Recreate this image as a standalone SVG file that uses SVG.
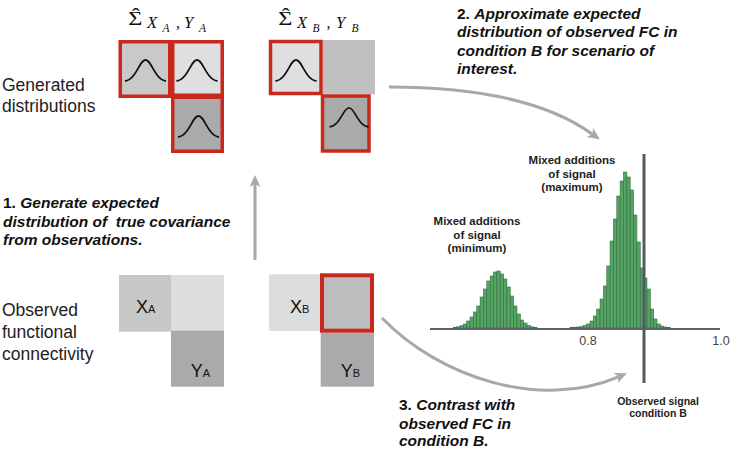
<svg xmlns="http://www.w3.org/2000/svg" width="733" height="449" viewBox="0 0 733 449">
<defs>
<style>
.lab{font-family:"Liberation Sans",Arial,sans-serif;font-size:17.5px;fill:#222}
.step{font-family:"Liberation Sans",Arial,sans-serif;font-size:15.5px;font-weight:bold;fill:#111}
.it{font-style:italic}
.ann{font-family:"Liberation Sans",Arial,sans-serif;font-weight:bold;font-size:11.5px;fill:#222;text-anchor:middle}
.obs{font-family:"Liberation Sans",Arial,sans-serif;font-weight:bold;font-size:10.5px;fill:#222;text-anchor:middle}
.tick{font-family:"Liberation Sans",Arial,sans-serif;font-size:12.5px;fill:#444;text-anchor:middle}
.math{font-family:"Liberation Serif","DejaVu Serif",serif;fill:#111}
.cellr{stroke:#c8291c;stroke-width:3.5}
.bell{fill:none;stroke:#111;stroke-width:1.8}
.cl{font-family:"Liberation Sans",Arial,sans-serif;font-size:18px;fill:#111}
.bar{fill:#55a463;stroke:#2f6e3f;stroke-width:0.6}
.conn{fill:none;stroke:#a8a8a8;stroke-width:3;marker-end:url(#ah)}
</style>
<marker id="ah" markerUnits="userSpaceOnUse" markerWidth="12" markerHeight="11" refX="3" refY="5.5" orient="auto" viewBox="0 0 12 11">
<path d="M0,0 L12,5.5 L0,11 L3,5.5 z" fill="#a8a8a8"/>
</marker>
<path id="bellc" d="M-20.5,21 C-14,20.5 -10,13 -6,6 C-3.5,1.5 -1.5,0 0,0 C1.5,0 3.5,1.5 6,6 C10,13 14,20.5 20.5,21"/>
</defs>

<g id="label-generated">
<text class="lab" x="2" y="90.5">Generated</text>
<text class="lab" x="2" y="111.5">distributions</text>
</g>
<g id="label-observed">
<text class="lab" x="2" y="315.5">Observed</text>
<text class="lab" x="2" y="337.5">functional</text>
<text class="lab" x="2" y="359.5">connectivity</text>
</g>

<g id="sigma-A" class="math">
<g transform="translate(128.3,0) scale(1.35,1)">
<text x="0" y="25" font-size="18">Σ</text>
<text x="5.5" y="21" font-size="18" text-anchor="middle">ˆ</text>
</g>
<text x="147" y="27.5" font-size="16.5" font-style="italic">X</text>
<text x="162.5" y="31.5" font-size="11.5" font-style="italic">A</text>
<text x="176" y="27.5" font-size="16">,</text>
<text x="184" y="27.5" font-size="16.5" font-style="italic">Y</text>
<text x="199" y="31.5" font-size="11.5" font-style="italic">A</text>
</g>
<g id="sigma-B" class="math">
<g transform="translate(278.3,0) scale(1.35,1)">
<text x="0" y="25" font-size="18">Σ</text>
<text x="5.5" y="21" font-size="18" text-anchor="middle">ˆ</text>
</g>
<text x="297" y="27.5" font-size="16.5" font-style="italic">X</text>
<text x="312.5" y="31.5" font-size="11.5" font-style="italic">B</text>
<text x="326.5" y="27.5" font-size="16">,</text>
<text x="336" y="27.5" font-size="16.5" font-style="italic">Y</text>
<text x="351.5" y="31.5" font-size="11.5" font-style="italic">B</text>
</g>

<g id="gen-A">
<rect class="cellr" x="120.25" y="41.75" width="49.5" height="54.5" fill="#c8c9c8"/>
<rect class="cellr" x="172.75" y="41.75" width="49.5" height="53.5" fill="#dedfe0"/>
<rect class="cellr" x="172.75" y="97.25" width="49.5" height="54" fill="#a9aaa9"/>
<use href="#bellc" class="bell" transform="translate(145.5,60)"/>
<use href="#bellc" class="bell" transform="translate(197,60)"/>
<use href="#bellc" class="bell" transform="translate(198.5,116)"/>
</g>
<g id="gen-B">
<rect x="322.7" y="40" width="52.3" height="54.3" fill="#bfc0bf"/>
<rect class="cellr" x="270.5" y="41.5" width="50.5" height="52" fill="#dedfe0"/>
<rect class="cellr" x="322.5" y="96" width="46.5" height="55" fill="#a9aaa9"/>
<use href="#bellc" class="bell" transform="translate(296,60)"/>
<use href="#bellc" class="bell" transform="translate(349,108) scale(0.95,0.9)"/>
</g>

<g id="obs-A">
<rect x="119" y="275" width="52" height="56.7" fill="#c6c7c6"/>
<rect x="171" y="275" width="53" height="55.5" fill="#dcdddd"/>
<rect x="171" y="330.5" width="53" height="56.2" fill="#a9aaa9"/>
<text class="cl" x="136" y="312.7">X<tspan font-size="11">A</tspan></text>
<text class="cl" x="190.7" y="376.7">Y<tspan font-size="11">A</tspan></text>
</g>
<g id="obs-B">
<rect x="269" y="274.3" width="51" height="56.7" fill="#dcdddd"/>
<rect x="320.7" y="332.7" width="53.3" height="54" fill="#a9aaa9"/>
<rect x="322" y="275.3" width="50" height="55.4" fill="#bcbdbc" stroke="#c8291c" stroke-width="4"/>
<text class="cl" x="290" y="312.7">X<tspan font-size="11">B</tspan></text>
<text class="cl" x="340.7" y="376.7">Y<tspan font-size="11">B</tspan></text>
</g>

<g id="step1">
<text class="step" x="3" y="208">1. <tspan class="it">Generate expected</tspan></text>
<text class="step it" x="3" y="226.5" xml:space="preserve">distribution of  true covariance</text>
<text class="step it" x="3" y="245">from observations.</text>
</g>
<g id="step2">
<text class="step" x="457" y="18.5">2. <tspan class="it">Approximate expected</tspan></text>
<text class="step it" x="457" y="37">distribution of observed FC in</text>
<text class="step it" x="457" y="55.5">condition B for scenario of</text>
<text class="step it" x="457" y="74">interest.</text>
</g>
<g id="step3">
<text class="step" x="399" y="410">3. <tspan class="it">Contrast with</tspan></text>
<text class="step it" x="399" y="428.5">observed FC in</text>
<text class="step it" x="399" y="446">condition B.</text>
</g>

<g id="histogram">
<g id="hist-min">
<rect class="bar" x="453.3" y="327.5" width="3.35" height="0.5"/>
<rect class="bar" x="456.65" y="326.8" width="3.35" height="1.2"/>
<rect class="bar" x="460" y="325.7" width="3.35" height="2.3"/>
<rect class="bar" x="463.35" y="324" width="3.35" height="4"/>
<rect class="bar" x="466.7" y="321" width="3.35" height="7"/>
<rect class="bar" x="470.05" y="317" width="3.35" height="11"/>
<rect class="bar" x="473.4" y="312" width="3.35" height="16"/>
<rect class="bar" x="476.75" y="306" width="3.35" height="22"/>
<rect class="bar" x="480.1" y="297" width="3.35" height="31"/>
<rect class="bar" x="483.45" y="289" width="3.35" height="39"/>
<rect class="bar" x="486.8" y="281" width="3.35" height="47"/>
<rect class="bar" x="490.15" y="276" width="3.35" height="52"/>
<rect class="bar" x="493.5" y="272" width="3.35" height="56"/>
<rect class="bar" x="496.85" y="271" width="3.35" height="57"/>
<rect class="bar" x="500.2" y="274" width="3.35" height="54"/>
<rect class="bar" x="503.55" y="279" width="3.35" height="49"/>
<rect class="bar" x="506.9" y="287" width="3.35" height="41"/>
<rect class="bar" x="510.25" y="296" width="3.35" height="32"/>
<rect class="bar" x="513.6" y="306" width="3.35" height="22"/>
<rect class="bar" x="516.95" y="314" width="3.35" height="14"/>
<rect class="bar" x="520.3" y="320" width="3.35" height="8"/>
<rect class="bar" x="523.65" y="323" width="3.35" height="5"/>
<rect class="bar" x="527" y="325.5" width="3.35" height="2.5"/>
<rect class="bar" x="530.35" y="326.8" width="3.35" height="1.2"/>
<rect class="bar" x="533.7" y="327.5" width="3.35" height="0.5"/>
</g>
<g id="hist-max">
<rect class="bar" x="569.9" y="327.4" width="3.35" height="0.6"/>
<rect class="bar" x="573.25" y="327.2" width="3.35" height="0.8"/>
<rect class="bar" x="576.6" y="327" width="3.35" height="1"/>
<rect class="bar" x="579.95" y="326.6" width="3.35" height="1.4"/>
<rect class="bar" x="583.3" y="325.5" width="3.35" height="2.5"/>
<rect class="bar" x="586.65" y="324" width="3.35" height="4"/>
<rect class="bar" x="590" y="321" width="3.35" height="7"/>
<rect class="bar" x="593.35" y="316" width="3.35" height="12"/>
<rect class="bar" x="596.7" y="309" width="3.35" height="19"/>
<rect class="bar" x="600.05" y="299" width="3.35" height="29"/>
<rect class="bar" x="603.4" y="286" width="3.35" height="42"/>
<rect class="bar" x="606.75" y="266" width="3.35" height="62"/>
<rect class="bar" x="610.1" y="241" width="3.35" height="87"/>
<rect class="bar" x="613.45" y="219" width="3.35" height="109"/>
<rect class="bar" x="616.8" y="196" width="3.35" height="132"/>
<rect class="bar" x="620.15" y="181" width="3.35" height="147"/>
<rect class="bar" x="623.5" y="172" width="3.35" height="156"/>
<rect class="bar" x="626.85" y="177" width="3.35" height="151"/>
<rect class="bar" x="630.2" y="190" width="3.35" height="138"/>
<rect class="bar" x="633.55" y="215" width="3.35" height="113"/>
<rect class="bar" x="636.9" y="242" width="3.35" height="86"/>
<rect class="bar" x="640.25" y="268" width="3.35" height="60"/>
<rect class="bar" x="643.6" y="278" width="3.35" height="50"/>
<rect class="bar" x="646.95" y="289" width="3.35" height="39"/>
<rect class="bar" x="650.3" y="309" width="3.35" height="19"/>
<rect class="bar" x="653.65" y="319" width="3.35" height="9"/>
<rect class="bar" x="657" y="324" width="3.35" height="4"/>
<rect class="bar" x="660.35" y="326" width="3.35" height="2"/>
<rect class="bar" x="663.7" y="327" width="3.35" height="1"/>
<rect class="bar" x="667.05" y="327.5" width="3.35" height="0.5"/>
</g>
<line x1="430" y1="329" x2="720" y2="329" stroke="#5f646a" stroke-width="2"/>
<line x1="644" y1="154" x2="644" y2="383" stroke="#525a62" stroke-width="3"/>
<text class="tick" x="588" y="345">0.8</text>
<text class="tick" x="721" y="345">1.0</text>
<text class="ann" x="572" y="164">Mixed additions</text>
<text class="ann" x="572" y="177.5">of signal</text>
<text class="ann" x="572" y="191">(maximum)</text>
<text class="ann" x="477" y="225">Mixed additions</text>
<text class="ann" x="477" y="238.5">of signal</text>
<text class="ann" x="477" y="252">(minimum)</text>
<text class="obs" x="658" y="404.5">Observed signal</text>
<text class="obs" x="658" y="416.5">condition B</text>
</g>

<g id="connectors">
<path class="conn" d="M255,260 L255,184"/>
<path class="conn" d="M389,87 C470,87 545,100 592.4,134.2"/>
<path class="conn" d="M382,318 C440,378 540,410 618.5,376.8"/>
</g>
</svg>
